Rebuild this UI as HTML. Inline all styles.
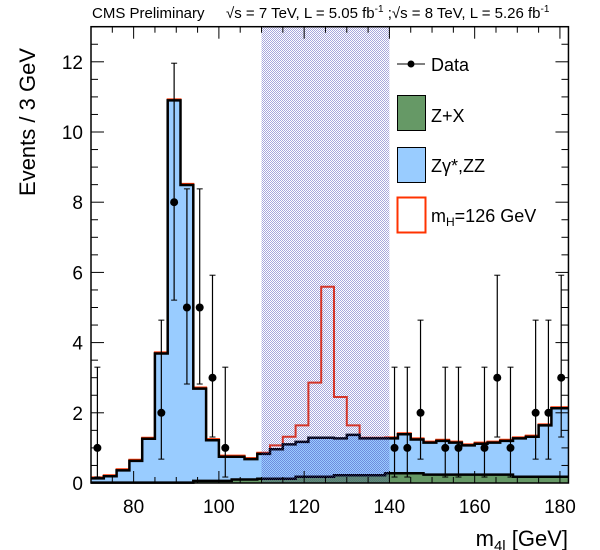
<!DOCTYPE html>
<html><head><meta charset="utf-8"><style>
html,body{margin:0;padding:0;background:#fff;}
svg{display:block;font-family:"Liberation Sans",sans-serif;}
</style></head><body>
<svg id="s" width="600" height="550" viewBox="0 0 600 550" xmlns="http://www.w3.org/2000/svg">
<defs>
<pattern id="hp" width="2" height="2" patternUnits="userSpaceOnUse">
<rect x="0" y="0" width="1" height="1" fill="#3c3cb4"/>
<rect x="1" y="1" width="1" height="1" fill="#3c3cb4"/>
</pattern>
</defs>
<g id="plot"></g>
<text x="92" y="18" font-size="15">CMS Preliminary</text>
<text x="226" y="18" font-size="15">√s = 7 TeV, L = 5.05 fb<tspan dy="-6" font-size="10">-1</tspan><tspan dy="6"> ;√s = 8 TeV, L = 5.26 fb</tspan><tspan dy="-6" font-size="10">-1</tspan></text>
<text transform="translate(35,122) rotate(-90)" text-anchor="middle" font-size="22">Events / 3 GeV</text>
<text x="568" y="546" text-anchor="end" font-size="22">m<tspan font-size="15" dy="5">4l</tspan><tspan dy="-5"> [GeV]</tspan></text>
<line x1="397" y1="64" x2="425" y2="64" stroke="#000" stroke-width="1"/>
<circle cx="411" cy="64" r="3.5" fill="#000"/>
<text x="431" y="71" font-size="18">Data</text>
<rect x="397.5" y="95.5" width="28" height="35" fill="#669966" stroke="#000"/>
<text x="431" y="122" font-size="18">Z+X</text>
<rect x="397.5" y="147.5" width="28" height="35" fill="#99ccff" stroke="#000"/>
<text x="431" y="172" font-size="18">Zγ*,ZZ</text>
<rect x="397.5" y="197.5" width="28" height="35" fill="none" stroke="#ff3300" stroke-width="2"/>
<text x="431" y="222" font-size="18">m<tspan font-size="12" dy="4">H</tspan><tspan dy="-4">=126 GeV</tspan></text>
</svg>
<script>
var X0=91,PX=4.263,Y0=483,PY=35.1;
function xx(g){return X0+(g-70)*PX;}
function yy(v){return Y0-v*PY;}
var tot=[0.13,0.19,0.36,0.63,1.26,3.69,10.9,8.49,2.69,1.22,0.75,0.75,0.68,0.83,0.96,1.1,1.17,1.29,1.29,1.27,1.37,1.27,1.27,1.27,1.39,1.24,1.15,1.2,1.15,1.07,1.12,1.15,1.2,1.27,1.32,1.64,2.13,2.13];
var edges=[];for(var i=0;i<38;i++)edges.push(70+3*i);edges.push(182);
var sig=tot.map(function(v){return v+0.03;});
var sv={13:0.86,14:1.07,15:1.32,16:1.64,17:2.86,18:5.59,19:2.45,20:1.64,21:1.29,22:1.29};
for(var k in sv)sig[k]=sv[k];
function green(g){if(g<94)return 0.01;if(g<103)return 0.06;if(g<109)return 0.1;if(g<118)return 0.12;if(g<127)return 0.18;if(g<139)return 0.22;if(g<148)return 0.28;if(g<169)return 0.24;return 0.18;}
var gr=tot.map(function(v,i){return green(edges[i]+0.1);});
function stepPath(vals,close){var d="M"+xx(70)+","+(close?Y0:yy(vals[0]).toFixed(1));
for(var i=0;i<vals.length;i++){var xe=Math.min(edges[i+1],182);d+=" L"+xx(edges[i]).toFixed(1)+","+yy(vals[i]).toFixed(1)+" L"+xx(xe).toFixed(1)+","+yy(vals[i]).toFixed(1);}
if(close)d+=" L"+xx(182).toFixed(1)+","+Y0+" Z";return d;}
var s="";
s+='<path d="'+stepPath(tot,true)+'" fill="#99ccff"/>';
s+='<path d="'+stepPath(gr,true)+'" fill="#669966"/>';
s+='<path d="'+stepPath(sig,false)+'" fill="none" stroke="#ff3300" stroke-width="2"/>';
s+='<path d="'+stepPath(tot,false)+'" fill="none" stroke="#000" stroke-width="2.5"/>';
s+='<path d="'+stepPath(gr,false)+'" fill="none" stroke="#000" stroke-width="2.5"/>';
s+='<rect x="'+xx(110)+'" y="27" width="'+(xx(140)-xx(110))+'" height="'+(Y0-27)+'" fill="url(#hp)" fill-opacity="0.45"/>';
var data=[[71.5,1],[86.5,2],[89.5,8],[92.5,5],[95.5,5],[98.5,3],[101.5,1],[141.2,1],[144.2,1],[147.3,2],[153.1,1],[156.2,1],[162.3,1],[165.3,3],[168.4,1],[174.3,2],[177.3,2],[180.3,3]];
var err={1:[0.17,3.3],2:[0.68,4.64],3:[1.31,5.92],5:[2.82,8.38],8:[5.21,11.96]};
data.forEach(function(p){var x=xx(p[0]),e=err[p[1]];var y1=yy(e[1]),y2=yy(e[0]);
s+='<line x1="'+x+'" y1="'+y1+'" x2="'+x+'" y2="'+y2+'" stroke="#000" stroke-width="1.2"/>';
s+='<line x1="'+(x-3)+'" y1="'+y1+'" x2="'+(x+3)+'" y2="'+y1+'" stroke="#000"/>';
s+='<line x1="'+(x-3)+'" y1="'+y2+'" x2="'+(x+3)+'" y2="'+y2+'" stroke="#000"/>';
s+='<circle cx="'+x+'" cy="'+yy(p[1])+'" r="4" fill="#000"/>';});
var L=X0,R=xx(182),T=yy(13.0);
s+='<rect x="'+L+'" y="'+T+'" width="'+(R-L)+'" height="'+(Y0-T)+'" fill="none" stroke="#000" stroke-width="1.5"/>';
for(var g=70;g<=182;g+=5){var x=xx(g),len=(g%20==0)?12:6;
s+='<line x1="'+x+'" y1="'+Y0+'" x2="'+x+'" y2="'+(Y0-len)+'" stroke="#000"/>';
s+='<line x1="'+x+'" y1="'+T+'" x2="'+x+'" y2="'+(T+len)+'" stroke="#000"/>';
if(g%20==0)s+='<text x="'+x+'" y="513" text-anchor="middle" font-size="19">'+g+'</text>';}
for(var v=0;v<=13;v+=0.5){var y=yy(v),len=(v%2==0)?13:7;
s+='<line x1="'+L+'" y1="'+y+'" x2="'+(L+len)+'" y2="'+y+'" stroke="#000"/>';
s+='<line x1="'+R+'" y1="'+y+'" x2="'+(R-len)+'" y2="'+y+'" stroke="#000"/>';
if(v%2==0)s+='<text x="'+(L-8)+'" y="'+(y+7)+'" text-anchor="end" font-size="19">'+v+'</text>';}
document.getElementById("plot").innerHTML=s;
</script>
</body></html>
